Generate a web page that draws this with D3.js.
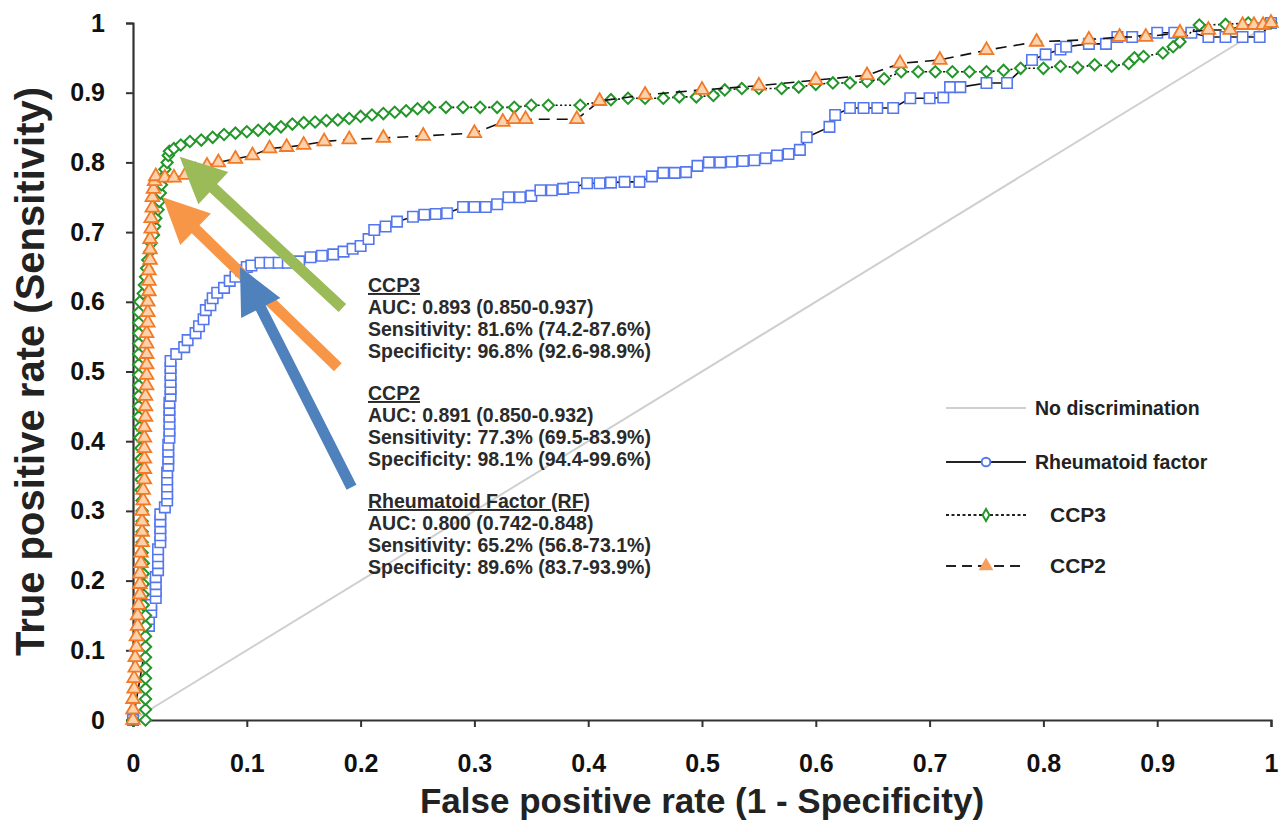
<!DOCTYPE html>
<html>
<head>
<meta charset="utf-8">
<script src="https://cdn.jsdelivr.net/npm/d3@7"></script>
<style>
  body { margin: 0; background: #fff; }
  svg { display: block; }
  text { font-family: "Liberation Sans", Arial, sans-serif; }
</style>
</head>
<body>
<div id="chart"></div>
<script>
// tick values and labels
var xTicks = [0, 0.1, 0.2, 0.3, 0.4, 0.5, 0.6, 0.7, 0.8, 0.9, 1];
var xTickLabels = ["0", "0.1", "0.2", "0.3", "0.4", "0.5", "0.6", "0.7", "0.8", "0.9", "1"];
var yTicks = [0, 0.1, 0.2, 0.3, 0.4, 0.5, 0.6, 0.7, 0.8, 0.9, 1];
var yTickLabels = ["0", "0.1", "0.2", "0.3", "0.4", "0.5", "0.6", "0.7", "0.8", "0.9", "1"];

// Rheumatoid factor ROC points
var rfFpr = [0, 0.014, 0.014, 0.016, 0.016, 0.02, 0.02, 0.02, 0.02, 0.022, 0.022, 0.022, 0.022,
  0.024, 0.024, 0.024, 0.024, 0.024, 0.028, 0.03, 0.03, 0.03, 0.03, 0.03, 0.031, 0.031, 0.031, 0.031,
  0.032, 0.032, 0.032, 0.032, 0.032, 0.032, 0.033, 0.033, 0.033, 0.033, 0.033, 0.033,
  0.038, 0.045, 0.048, 0.055, 0.058, 0.062, 0.064, 0.068, 0.07, 0.074, 0.08, 0.085, 0.09, 0.095, 0.1, 0.104,
  0.112, 0.12, 0.128, 0.136, 0.146, 0.156, 0.166, 0.176, 0.185, 0.193, 0.2, 0.207, 0.212, 0.222, 0.232,
  0.246, 0.256, 0.266, 0.276, 0.29, 0.3, 0.31, 0.32, 0.33, 0.34, 0.35, 0.358, 0.368, 0.378, 0.387, 0.399,
  0.41, 0.42, 0.432, 0.445, 0.456, 0.466, 0.476, 0.486, 0.496, 0.506, 0.516, 0.526, 0.536, 0.546, 0.556,
  0.566, 0.576, 0.586, 0.592, 0.612, 0.617, 0.63, 0.642, 0.654, 0.668, 0.683, 0.7, 0.712, 0.718, 0.727,
  0.75, 0.768, 0.79, 0.802, 0.815, 0.82, 0.84, 0.855, 0.865, 0.878, 0.9, 0.915, 0.93, 0.945, 0.96, 0.975,
  0.99, 1];
var rfTpr = [0, 0.135, 0.145, 0.155, 0.165, 0.175, 0.185, 0.195, 0.205, 0.215, 0.225, 0.235, 0.245,
  0.255, 0.265, 0.275, 0.285, 0.295, 0.305, 0.315, 0.325, 0.335, 0.345, 0.355, 0.365, 0.375, 0.385, 0.395,
  0.405, 0.415, 0.425, 0.435, 0.445, 0.455, 0.465, 0.475, 0.485, 0.495, 0.505, 0.515,
  0.525, 0.535, 0.545, 0.555, 0.565, 0.575, 0.588, 0.595, 0.605, 0.613, 0.62, 0.63, 0.636, 0.645, 0.65, 0.652,
  0.656, 0.656, 0.656, 0.656, 0.658, 0.664, 0.666, 0.668, 0.672, 0.676, 0.68, 0.69, 0.703, 0.708, 0.715,
  0.722, 0.725, 0.726, 0.727, 0.736, 0.736, 0.736, 0.74, 0.75, 0.75, 0.752, 0.76, 0.76, 0.762, 0.764, 0.77,
  0.77, 0.771, 0.772, 0.772, 0.78, 0.785, 0.785, 0.786, 0.795, 0.8, 0.8, 0.801, 0.802, 0.803, 0.806,
  0.81, 0.812, 0.818, 0.836, 0.851, 0.868, 0.878, 0.878, 0.878, 0.878, 0.892, 0.892, 0.893, 0.908, 0.908,
  0.914, 0.914, 0.947, 0.955, 0.962, 0.966, 0.97, 0.97, 0.98, 0.98, 0.986, 0.986, 0.986, 0.98, 0.98, 0.98,
  0.98, 1];

// CCP3 ROC points
var ccp3Fpr = [0, 0.011, 0.011, 0.011, 0.011, 0.011, 0.011, 0.011, 0.011, 0.011, 0.011, 0.011,
  0.009, 0.009, 0.009, 0.009, 0.009, 0.008, 0.008, 0.008, 0.008, 0.008, 0.008,
  0.007, 0.007, 0.007, 0.007, 0.007, 0.006, 0.006, 0.005, 0.005, 0.005, 0.005, 0.005, 0.005, 0.005, 0.005,
  0.005, 0.005, 0.005, 0.006, 0.009, 0.01, 0.011, 0.012, 0.013, 0.015, 0.016, 0.018, 0.019, 0.02, 0.022,
  0.023, 0.024, 0.025, 0.027, 0.028, 0.03, 0.031, 0.032,
  0.036, 0.042, 0.05, 0.06, 0.07, 0.08, 0.09, 0.1, 0.11, 0.12, 0.13, 0.14,
  0.15, 0.16, 0.17, 0.18, 0.19, 0.2, 0.21, 0.22, 0.23, 0.24, 0.25, 0.26, 0.275, 0.29, 0.305, 0.32, 0.335,
  0.35, 0.365, 0.393, 0.42, 0.435, 0.45, 0.466, 0.48, 0.495, 0.51, 0.52, 0.535, 0.55, 0.57, 0.585, 0.6,
  0.615, 0.63, 0.645, 0.66, 0.675, 0.69, 0.705, 0.72, 0.735, 0.75, 0.765, 0.78, 0.8, 0.815, 0.83, 0.845,
  0.86, 0.875, 0.88, 0.888, 0.905, 0.914, 0.92, 0.937, 0.96, 0.98, 1];
var ccp3Tpr = [0, 0, 0.015, 0.03, 0.045, 0.06, 0.075, 0.09, 0.105, 0.12, 0.135, 0.15,
  0.165, 0.18, 0.195, 0.21, 0.225, 0.24, 0.255, 0.27, 0.285, 0.3, 0.315,
  0.33, 0.345, 0.36, 0.375, 0.39, 0.405, 0.42, 0.435, 0.45, 0.465, 0.48, 0.495, 0.51, 0.525, 0.54,
  0.555, 0.57, 0.585, 0.6, 0.612, 0.624, 0.636, 0.648, 0.66, 0.672, 0.684, 0.696, 0.708, 0.72, 0.732,
  0.744, 0.756, 0.768, 0.78, 0.79, 0.8, 0.81, 0.816,
  0.82, 0.825, 0.83, 0.832, 0.836, 0.84, 0.842, 0.844, 0.846, 0.848, 0.851, 0.855,
  0.857, 0.858, 0.86, 0.861, 0.863, 0.866, 0.868, 0.87, 0.872, 0.874, 0.877, 0.879, 0.879, 0.879, 0.879, 0.879, 0.879,
  0.882, 0.882, 0.882, 0.89, 0.892, 0.892, 0.892, 0.894, 0.894, 0.896, 0.904, 0.906, 0.906, 0.906, 0.908, 0.912,
  0.914, 0.914, 0.916, 0.92, 0.93, 0.93, 0.93, 0.93, 0.93, 0.93, 0.932, 0.935, 0.935, 0.938, 0.936, 0.94,
  0.938, 0.942, 0.95, 0.952, 0.957, 0.966, 0.973, 0.997, 0.998, 1, 1];

// CCP2 ROC points
var ccp2Fpr = [0, 0, 0, 0.001, 0.001, 0.002, 0.002, 0.003, 0.003, 0.004, 0.004, 0.005, 0.006, 0.006,
  0.006, 0.007, 0.007, 0.008, 0.008, 0.008, 0.008, 0.009, 0.009, 0.01, 0.01, 0.01, 0.01, 0.01, 0.01,
  0.011, 0.011, 0.011, 0.012, 0.012, 0.012, 0.012, 0.012, 0.012, 0.013, 0.013, 0.013, 0.014, 0.014,
  0.014, 0.015, 0.015, 0.015, 0.016, 0.016, 0.017, 0.017, 0.018, 0.019, 0.02,
  0.028, 0.036, 0.046, 0.055, 0.065, 0.075, 0.09, 0.105, 0.12, 0.135, 0.15, 0.168, 0.19, 0.22, 0.255, 0.3,
  0.325, 0.335, 0.345, 0.39, 0.41, 0.45, 0.5, 0.55, 0.6, 0.645, 0.674, 0.709, 0.75, 0.794, 0.84, 0.867,
  0.89, 0.92, 0.945, 0.964, 0.975, 0.985, 0.993, 1];
var ccp2Tpr = [0, 0.015, 0.03, 0.045, 0.06, 0.075, 0.09, 0.105, 0.12, 0.135, 0.15, 0.165, 0.18, 0.195,
  0.21, 0.225, 0.24, 0.255, 0.27, 0.285, 0.3, 0.315, 0.33, 0.345, 0.36, 0.375, 0.39, 0.405, 0.42,
  0.435, 0.45, 0.465, 0.48, 0.495, 0.51, 0.525, 0.54, 0.555, 0.57, 0.585, 0.6, 0.615, 0.63,
  0.645, 0.66, 0.675, 0.69, 0.705, 0.72, 0.735, 0.75, 0.762, 0.773, 0.78,
  0.778, 0.778, 0.782, 0.788, 0.795, 0.8, 0.805, 0.81, 0.82, 0.822, 0.825, 0.83, 0.833, 0.835, 0.838, 0.842,
  0.858, 0.862, 0.862, 0.862, 0.888, 0.897, 0.904, 0.91, 0.918, 0.925, 0.942, 0.947, 0.961, 0.973, 0.976, 0.98,
  0.98, 0.986, 0.99, 0.99, 0.997, 0.997, 0.997, 1];

var width = 1288;
var height = 832;

var svg = d3.select("#chart")
  .append("svg")
  .attr("width", width)
  .attr("height", height);

var x = d3.scaleLinear().domain([0, 1]).range([133, 1271]);
var y = d3.scaleLinear().domain([0, 1]).range([720, 23]);

// no discrimination diagonal
svg.append("line")
  .attr("x1", x(0)).attr("y1", y(0))
  .attr("x2", x(1)).attr("y2", y(1))
  .attr("stroke", "#cfcfcf")
  .attr("stroke-width", 2);

//axes
var xAxis = svg.append("g")
  .attr("transform", "translate(0," + y(0) + ")")
  .call(d3.axisBottom(x).tickValues(xTicks).tickFormat((d, i) => xTickLabels[i])
    .tickSize(7).tickSizeOuter(7).tickPadding(27));
var yAxis = svg.append("g")
  .attr("transform", "translate(" + x(0) + ",0)")
  .call(d3.axisLeft(y).tickValues(yTicks).tickFormat((d, i) => yTickLabels[i])
    .tickSize(7).tickSizeOuter(7).tickPadding(21));

[xAxis, yAxis].forEach(g => {
  g.select(".domain").attr("stroke", "#333").attr("stroke-width", 2.2);
  g.selectAll(".tick line").attr("stroke", "#333").attr("stroke-width", 2);
  g.selectAll(".tick text")
    .attr("fill", "#111")
    .style("font-size", "25px")
    .style("font-weight", "bold")
    .style("font-family", "'Liberation Sans', Arial, sans-serif");
});

// axis titles
svg.append("text")
  .attr("x", (x(0) + x(1)) / 2)
  .attr("y", 813)
  .attr("text-anchor", "middle")
  .style("font-size", "35px")
  .style("font-weight", "bold")
  .attr("fill", "#222")
  .text("False positive rate (1 - Specificity)");

svg.append("text")
  .attr("transform", "translate(44," + ((y(0) + y(1)) / 2) + ") rotate(-90)")
  .attr("text-anchor", "middle")
  .style("font-size", "40px")
  .style("font-weight", "bold")
  .attr("fill", "#222")
  .text("True positive rate (Sensitivity)");

// series
var series = [
  { name: "rf", fpr: rfFpr, tpr: rfTpr, dash: null, symbol: d3.symbolSquare, size: 110, rot: 0,
    stroke: "#5577ee", fill: "#fff", sw: 1.6 },
  { name: "ccp3", fpr: ccp3Fpr, tpr: ccp3Tpr, dash: "2,2.5", symbol: d3.symbolSquare, size: 64, rot: 45,
    stroke: "#23962a", fill: "#fff", sw: 2 },
  { name: "ccp2", fpr: ccp2Fpr, tpr: ccp2Tpr, dash: "11,7", symbol: d3.symbolTriangle, size: 80, rot: 0,
    stroke: "#f27a26", fill: "#fcd2ad", sw: 1.8 }
];

var line = d3.line().x(d => x(d[0])).y(d => y(d[1]));

series.forEach(s => {
  var pts = d3.zip(s.fpr, s.tpr);
  var g = svg.append("g").attr("class", s.name);
  g.append("path")
    .datum(pts)
    .attr("d", line)
    .attr("fill", "none")
    .attr("stroke", "#111")
    .attr("stroke-width", 1.6)
    .attr("stroke-dasharray", s.dash);
  g.selectAll("path.pt")
    .data(pts)
    .enter()
    .append("path")
    .attr("class", "pt")
    .attr("d", d3.symbol().type(s.symbol).size(s.size))
    .attr("transform", d => "translate(" + x(d[0]) + "," + y(d[1]) + ") rotate(" + s.rot + ")")
    .attr("fill", s.fill)
    .attr("stroke", s.stroke)
    .attr("stroke-width", s.sw);
});

// arrows pointing at the operating points
var arrows = [
  { from: [0.184, 0.591], to: [0.041, 0.808], color: "#9bbb59" },
  { from: [0.180, 0.506], to: [0.026, 0.750], color: "#f79646" },
  { from: [0.192, 0.334], to: [0.094, 0.650], color: "#4f81bd" }
];

arrows.forEach(a => {
  var x0 = x(a.from[0]), y0 = y(a.from[1]);
  var x1 = x(a.to[0]), y1 = y(a.to[1]);
  var dx = x1 - x0, dy = y1 - y0;
  var len = Math.sqrt(dx * dx + dy * dy);
  var ux = dx / len, uy = dy / len;
  var px = -uy, py = ux;
  var hl = 46, hw = 22, sw = 5.5;
  var bx = x1 - ux * hl, by = y1 - uy * hl;
  var poly = [
    [x0 + px * sw, y0 + py * sw],
    [bx + px * sw, by + py * sw],
    [bx + px * hw, by + py * hw],
    [x1, y1],
    [bx - px * hw, by - py * hw],
    [bx - px * sw, by - py * sw],
    [x0 - px * sw, y0 - py * sw]
  ];
  svg.append("polygon")
    .attr("points", poly.map(p => p.join(",")).join(" "))
    .attr("fill", a.color);
});

// annotation text
var notes = [
  ["CCP3", "AUC: 0.893 (0.850-0.937)", "Sensitivity: 81.6% (74.2-87.6%)", "Specificity: 96.8% (92.6-98.9%)"],
  ["CCP2", "AUC: 0.891 (0.850-0.932)", "Sensitivity: 77.3% (69.5-83.9%)", "Specificity: 98.1% (94.4-99.6%)"],
  ["Rheumatoid Factor (RF)", "AUC: 0.800 (0.742-0.848)", "Sensitivity: 65.2% (56.8-73.1%)", "Specificity: 89.6% (83.7-93.9%)"]
];
var noteTop = [292, 400, 508];

notes.forEach((n, gi) => {
  n.forEach((t, li) => {
    svg.append("text")
      .attr("x", 368)
      .attr("y", noteTop[gi] + li * 22)
      .style("font-size", "19.5px")
      .style("font-weight", "bold")
      .style("text-decoration", li === 0 ? "underline" : null)
      .attr("fill", "#2a2a2a")
      .text(t);
  });
});

// legend
var legend = svg.append("g");
var legendItems = [
  { label: "No discrimination", y: 408, tx: 1035, fs: 19.5, stroke: "#cfcfcf", dash: null, marker: null },
  { label: "Rheumatoid factor", y: 462, tx: 1035, fs: 19.5, stroke: "#222", dash: null,
    marker: { type: d3.symbolCircle, size: 60, stroke: "#5577ee", fill: "#fff" } },
  { label: "CCP3", y: 515, tx: 1050, fs: 21, stroke: "#222", dash: "3,2.5",
    marker: { type: d3.symbolDiamond, size: 40, stroke: "#23962a", fill: "#fff" } },
  { label: "CCP2", y: 566, tx: 1050, fs: 21, stroke: "#222", dash: "10,6",
    marker: { type: d3.symbolTriangle, size: 55, stroke: "#f6a060", fill: "#f6a060" } }
];

legendItems.forEach(it => {
  legend.append("line")
    .attr("x1", 946).attr("x2", 1026)
    .attr("y1", it.y).attr("y2", it.y)
    .attr("stroke", it.stroke)
    .attr("stroke-width", 2)
    .attr("stroke-dasharray", it.dash);
  if (it.marker) {
    legend.append("path")
      .attr("d", d3.symbol().type(it.marker.type).size(it.marker.size))
      .attr("transform", "translate(986," + it.y + ")")
      .attr("fill", it.marker.fill)
      .attr("stroke", it.marker.stroke)
      .attr("stroke-width", 2);
  }
  legend.append("text")
    .attr("x", it.tx)
    .attr("y", it.y)
    .attr("dy", "0.35em")
    .style("font-size", it.fs + "px")
    .style("font-weight", "bold")
    .attr("fill", "#222")
    .text(it.label);
});
</script>
</body>
</html>
